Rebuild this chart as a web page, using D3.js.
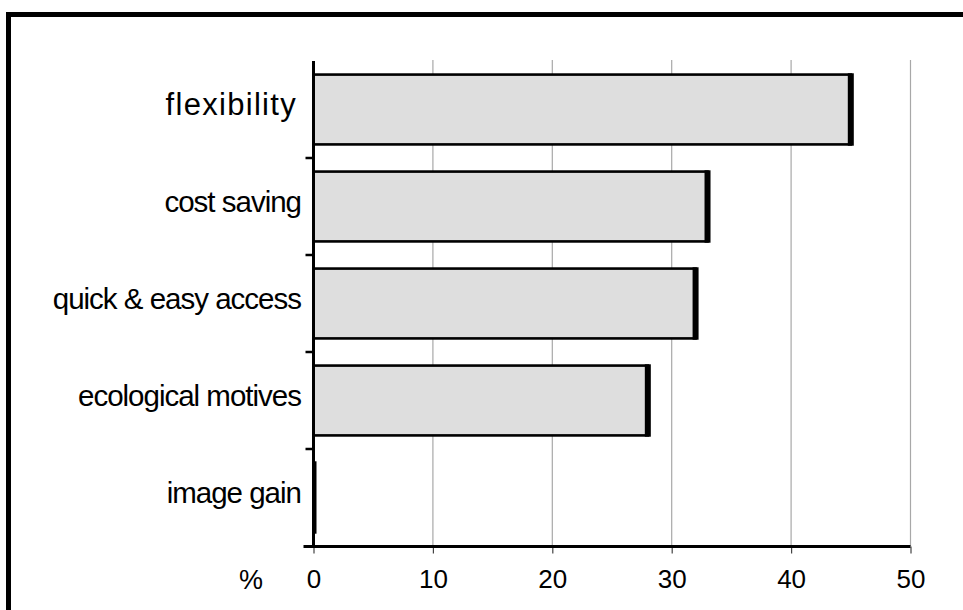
<!DOCTYPE html>
<html>
<head>
<meta charset="utf-8">
<script src="https://cdn.jsdelivr.net/npm/d3@7"></script>
<style>
  body { margin: 0; background: #fff; }
  text { font-family: "Liberation Sans", Arial, sans-serif; fill: #000; }
</style>
</head>
<body>
<div class="canvas"></div>
<script>
// data (percent)
var categories = ["flexibility", "cost saving", "quick & easy access", "ecological motives", "image gain"];
var values = [45, 33, 32, 28, 0];
var xTicks = [0, 10, 20, 30, 40, 50];
var axisUnit = "%";

var width = 963;
var height = 610;

var svg = d3.select(".canvas")
  .append("svg")
    .attr("width", width)
    .attr("height", height);

// frame (only top and left edge fall inside the picture)
svg.append("rect")
  .attr("x", 8.5)
  .attr("y", 14.5)
  .attr("width", 1000)
  .attr("height", 700)
  .attr("fill", "none")
  .attr("stroke", "#000")
  .attr("stroke-width", 5);

var xs = d3.scaleLinear()
  .domain([0, 50])
  .range([313.5, 910.5]);

// one band per category, no padding: gives the tick positions between bars
var yEdge = d3.scaleBand()
  .domain(categories)
  .range([61, 546])
  .padding(0);

// bars sit inside the band
var ys = d3.scaleBand()
  .domain(categories)
  .range([61, 546])
  .paddingInner(0.28)
  .paddingOuter(0.14);

// vertical grid
svg.selectAll(".grid")
  .data(xTicks.filter(function(d) { return d > 0; }))
  .enter()
  .append("line")
    .attr("class", "grid")
    .attr("x1", function(d) { return xs(d); })
    .attr("x2", function(d) { return xs(d); })
    .attr("y1", 60)
    .attr("y2", 546)
    .attr("stroke", "#a8a8a8")
    .attr("stroke-width", 1.2);

// bars
var bar = svg.selectAll(".bar")
  .data(values)
  .enter()
  .append("g")
    .attr("class", "bar");

bar.append("rect")
  .attr("x", xs(0))
  .attr("y", function(d, i) { return ys(categories[i]); })
  .attr("width", function(d) { return xs(d) - xs(0); })
  .attr("height", ys.bandwidth())
  .attr("fill", "#dedede")
  .attr("stroke", "#000")
  .attr("stroke-width", 2.6);

// heavier right edge of each bar
bar.append("rect")
  .attr("x", function(d) { return Math.max(xs(0), xs(d) - 3); })
  .attr("y", function(d, i) { return ys(categories[i]) - 1.3; })
  .attr("width", function(d) { return xs(d) + 3 - Math.max(xs(0), xs(d) - 3); })
  .attr("height", ys.bandwidth() + 2.6)
  .attr("fill", "#000");

// y axis line and ticks between categories
svg.append("line")
  .attr("x1", xs(0))
  .attr("x2", xs(0))
  .attr("y1", 61)
  .attr("y2", 546)
  .attr("stroke", "#000")
  .attr("stroke-width", 3);

svg.selectAll(".ytick")
  .data(categories.slice(1))
  .enter()
  .append("line")
    .attr("class", "ytick")
    .attr("x1", xs(0) - 8)
    .attr("x2", xs(0))
    .attr("y1", function(d) { return yEdge(d); })
    .attr("y2", function(d) { return yEdge(d); })
    .attr("stroke", "#000")
    .attr("stroke-width", 2.5);

// category labels
svg.selectAll(".cat")
  .data(categories)
  .enter()
  .append("text")
    .attr("class", "cat")
    .attr("x", function(d, i) { return i == 0 ? 297 : 301; })
    .attr("y", function(d) { return yEdge(d) + yEdge.bandwidth() / 2 + 5.5; })
    .attr("text-anchor", "end")
    .style("font-size", function(d, i) { return i == 0 ? "31px" : "29.5px"; })
    .style("letter-spacing", function(d, i) { return i == 0 ? "1.3px" : "-1px"; })
    .text(function(d) { return d; });

// x axis
var xAxis = d3.axisBottom(xs)
  .tickValues(xTicks)
  .tickSize(7)
  .tickSizeOuter(0)
  .tickPadding(16);

var gx = svg.append("g")
  .attr("transform", "translate(0,546.5)")
  .call(xAxis);

gx.select(".domain").remove();
gx.selectAll(".tick line")
  .attr("stroke", "#444")
  .attr("stroke-width", 1.2);
gx.selectAll(".tick text")
  .style("font-family", "'Liberation Sans', Arial, sans-serif")
  .style("font-size", "26px")
  .attr("fill", "#000");

svg.append("line")
  .attr("x1", xs(0) - 10)
  .attr("x2", xs(50))
  .attr("y1", 546.5)
  .attr("y2", 546.5)
  .attr("stroke", "#000")
  .attr("stroke-width", 3);

svg.append("text")
  .attr("x", 251)
  .attr("y", 589)
  .attr("text-anchor", "middle")
  .style("font-size", "27px")
  .text(axisUnit);
</script>
</body>
</html>
